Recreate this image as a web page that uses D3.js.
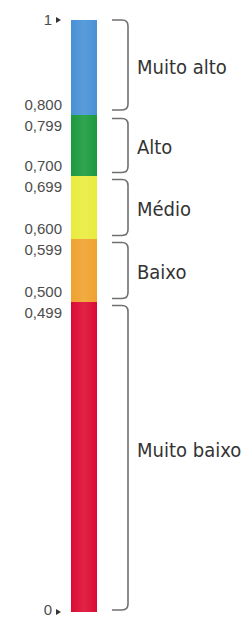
<!DOCTYPE html>
<html><head><meta charset="utf-8">
<script src="https://cdn.jsdelivr.net/npm/d3@7"></script>
<style>
html,body{margin:0;padding:0;background:#fff;}
svg{display:block;}
</style></head>
<body>
<script>
const categories = ["Muito baixo", "Baixo", "Médio", "Alto", "Muito alto"];
const lowerBounds = [0, 0.5, 0.6, 0.7, 0.8];
const upperBounds = [0.499, 0.599, 0.699, 0.799, 1];
const colors = ["#dc0b33", "#f0a22e", "#e9ec3c", "#1b9a3e", "#4891d6"];
const tickValues = [0.8, 0.799, 0.7, 0.699, 0.6, 0.599, 0.5, 0.499];
const tickLabels = ["0,800", "0,799", "0,700", "0,699", "0,600", "0,599", "0,500", "0,499"];
const endValues = [1, 0];
const endLabels = ["1", "0"];

const W = 243, H = 618;
const svg = d3.select("body").append("svg").attr("width", W).attr("height", H);

// piecewise scale (the picture's scale is not uniform)
const y = d3.scaleLinear()
  .domain([0, 0.5, 0.6, 0.7, 0.8, 1])
  .range([612, 302, 239, 176, 115, 20]);

const barX = 71, barW = 26;

const defs = svg.append("defs");
colors.forEach((c, i) => {
  const g = defs.append("linearGradient").attr("id", "g" + i).attr("x1", 0).attr("x2", 1);
  g.append("stop").attr("offset", 0).attr("stop-color", c);
  g.append("stop").attr("offset", 0.5).attr("stop-color", d3.interpolateRgb(c, "#fff")(0.1));
  g.append("stop").attr("offset", 1).attr("stop-color", c);
});

const segTop = i => y(i === categories.length - 1 ? upperBounds[i] : lowerBounds[i + 1]);

svg.selectAll("rect.seg").data(categories).join("rect")
  .attr("class", "seg")
  .attr("x", barX).attr("width", barW)
  .attr("y", (d, i) => segTop(i))
  .attr("height", (d, i) => y(lowerBounds[i]) - segTop(i))
  .attr("fill", (d, i) => `url(#g${i})`);

// tick labels: lower bounds above the boundary, upper bounds below it
svg.selectAll("text.tick").data(tickValues).join("text")
  .attr("class", "tick")
  .attr("x", 62)
  .attr("y", (d, i) => lowerBounds.includes(d) ? y(d) - 5 : y(d + 0.001) + 16)
  .attr("text-anchor", "end")
  .attr("font-family", "Liberation Sans, Arial, sans-serif")
  .attr("font-size", 15)
  .attr("fill", "#4d4d4d")
  .text((d, i) => tickLabels[i]);

endValues.forEach((v, i) => {
  const yy = y(v);
  svg.append("text")
    .attr("x", 52).attr("y", yy + (v === 0 ? 3 : 5))
    .attr("text-anchor", "end")
    .attr("font-family", "Liberation Sans, Arial, sans-serif")
    .attr("font-size", 15)
    .attr("fill", "#4d4d4d")
    .text(endLabels[i]);
  svg.append("path")
    .attr("d", `M56,${yy - 3}L61,${yy}L56,${yy + 3}Z`)
    .attr("fill", "#333");
});

// brackets
const bx0 = 112, bx1 = 128, r = 6, gap = 3.5;
const brackets = categories.map((c, i) => {
  const last = i === categories.length - 1;
  const top = last ? y(upperBounds[i]) : y(lowerBounds[i + 1]) + gap;
  const bot = i === 0 ? y(lowerBounds[i]) - 2 : (last ? y(lowerBounds[i]) - 5 : y(lowerBounds[i]) - gap);
  return {c, top, bot};
});
svg.selectAll("path.br").data(brackets).join("path")
  .attr("class", "br")
  .attr("d", d => `M${bx0},${d.top}H${bx1 - r}Q${bx1},${d.top} ${bx1},${d.top + r}V${d.bot - r}Q${bx1},${d.bot} ${bx1 - r},${d.bot}H${bx0}`)
  .attr("fill", "none")
  .attr("stroke", "#707070")
  .attr("stroke-width", 1.6);

svg.selectAll("text.cat").data(brackets).join("text")
  .attr("class", "cat")
  .attr("x", 137)
  .attr("y", (d, i) => (d.top + d.bot) / 2 + (i === 0 ? -6 : 3))
  .attr("dominant-baseline", "middle")
  .attr("font-family", "DejaVu Sans Condensed, Liberation Sans Narrow, sans-serif")
  .attr("font-size", 20)
  .attr("fill", "#333")
  .text(d => d.c);
</script>
</body></html>
